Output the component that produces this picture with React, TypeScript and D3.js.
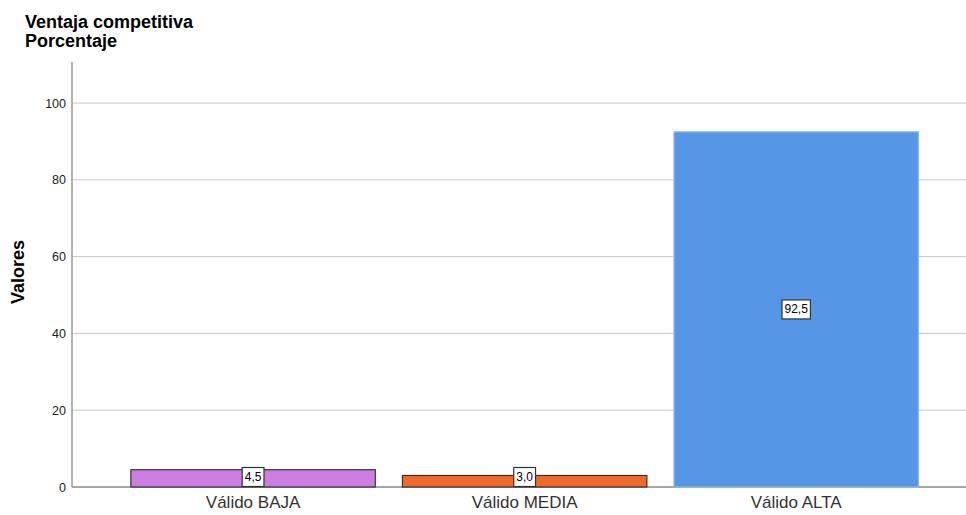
import React from "react";
import * as d3 from "d3";

const categories = ["Válido BAJA", "Válido MEDIA", "Válido ALTA"];
const values = [4.5, 3.0, 92.5];
const labels = ["4,5", "3,0", "92,5"];
const fills = ["#cc7ee2", "#f2692c", "#5596e6"];
const strokes = ["#333333", "#333333", "#8cb7ef"];
const yTicks = [0, 20, 40, 60, 80, 100];

const W = 966;
const H = 515;
const FONT = "Arial, 'Liberation Sans', sans-serif";

export default function App() {
  const left = 72;
  const right = 966;
  const top = 62;
  const bottom = 487;

  const x = d3
    .scaleBand<string>()
    .domain(categories)
    .range([left, right])
    .paddingInner(0.1)
    .paddingOuter(0.196)
    .align(0.553);
  const y = d3.scaleLinear().domain([0, 110.7]).range([bottom, top]);

  return (
    <svg width={W} height={H} style={{ position: "absolute", left: 0, top: 0, fontFamily: FONT }}>
      <rect x={0} y={0} width={W} height={H} fill="#ffffff" />
      <text x={25} y={28} fontSize={18} fontWeight="bold" fill="#000">
        Ventaja competitiva
      </text>
      <text x={25} y={47} fontSize={18} fontWeight="bold" fill="#000">
        Porcentaje
      </text>
      {yTicks.map((t) => (
        <g key={t}>
          {t > 0 && (
            <line x1={left} x2={right} y1={y(t)} y2={y(t)} stroke="#c8c8c8" strokeWidth={1} />
          )}
          <text x={66} y={y(t) + 4.5} fontSize={12.5} textAnchor="end" fill="#222">
            {t}
          </text>
        </g>
      ))}
      <line x1={left} x2={left} y1={top} y2={bottom} stroke="#888" strokeWidth={1.3} />
      <line x1={left} x2={right} y1={bottom} y2={bottom} stroke="#888" strokeWidth={1.3} />
      <text
        transform={`translate(24, 272) rotate(-90)`}
        fontSize={18}
        fontWeight="bold"
        textAnchor="middle"
        fill="#000"
      >
        Valores
      </text>
      {categories.map((c, i) => {
        const x0 = x(c)!;
        const bw = x.bandwidth();
        const cx = x0 + bw / 2;
        const yTop = y(values[i]);
        const cy = Math.min(y(values[i] / 2), bottom - 10);
        const tw = labels[i].length * 6.6 + 2;
        return (
          <g key={c}>
            <rect
              x={x0}
              y={yTop}
              width={bw}
              height={bottom - yTop}
              fill={fills[i]}
              stroke={strokes[i]}
              strokeWidth={1.2}
            />
            <rect
              x={cx - tw / 2}
              y={cy - 9.5}
              width={tw}
              height={19}
              fill="#fff"
              stroke="#333"
              strokeWidth={1.2}
            />
            <text x={cx} y={cy + 4} fontSize={12} textAnchor="middle" fill="#000">
              {labels[i]}
            </text>
            <text x={cx} y={508} fontSize={17} textAnchor="middle" fill="#333">
              {c}
            </text>
          </g>
        );
      })}
    </svg>
  );
}
